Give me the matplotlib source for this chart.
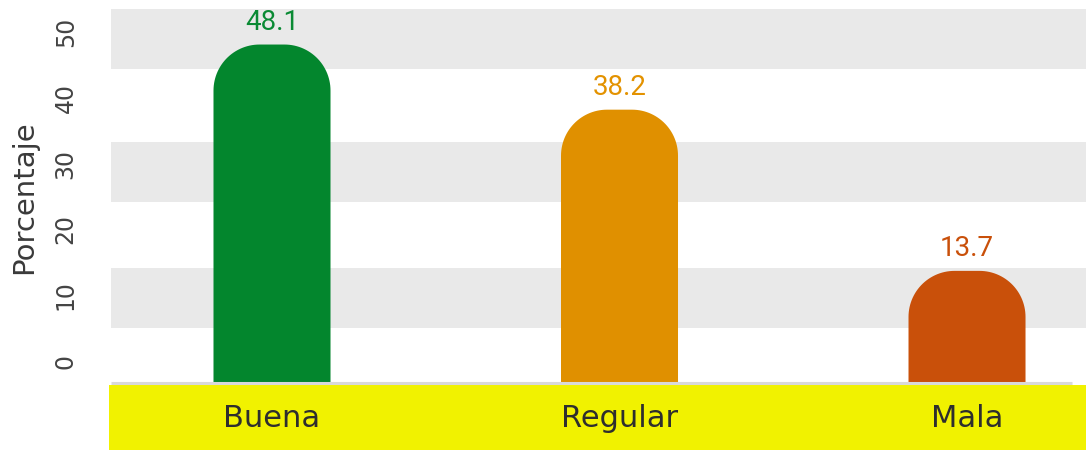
import matplotlib
matplotlib.use("Agg")
import numpy as np
import matplotlib.pyplot as plt
from matplotlib.patches import Polygon, Rectangle

categories = ["Buena", "Regular", "Mala"]
values = [48.1, 38.2, 13.7]
bar_colors = ["#03862D", "#E09000", "#C9500A"]
label_colors = ["#0A8A34", "#E39200", "#C9500A"]
yticks = [0, 10, 20, 30, 40, 50]
bands = [(5.0, 14.1), (24.2, 33.3), (44.4, 53.5)]

W, H, DPI = 1086, 450, 100
fig = plt.figure(figsize=(W / DPI, H / DPI), dpi=DPI)
fig.patch.set_facecolor("white")

ax_l, ax_r, ax_t, ax_b = 111, 1086, 9, 383
ax = fig.add_axes([ax_l / W, (H - ax_b) / H, (ax_r - ax_l) / W, (ax_b - ax_t) / H])
ax.set_facecolor("white")

xmin, xmax = -0.4633, 2.3424
ymin, ymax = -3.34, 53.5
ax.set_xlim(xmin, xmax)
ax.set_ylim(ymin, ymax)

# background bands
for lo, hi in bands:
    ax.axhspan(lo, hi, color="#E9E9E9", lw=0, zorder=0)

# pixels per data unit (for circular top corners)
px_x = (ax_r - ax_l) / (xmax - xmin)
px_y = (ax_b - ax_t) / (ymax - ymin)
radius_px = 46
rx, ry = radius_px / px_x, radius_px / px_y
bw = 0.3367
theta = np.linspace(0, np.pi / 2, 30)


def rounded_bar(xc, top, base):
    x0, x1 = xc - bw / 2, xc + bw / 2
    right = np.column_stack([x1 - rx + rx * np.cos(theta), top - ry + ry * np.sin(theta)])
    left = np.column_stack([x0 + rx - rx * np.cos(theta[::-1]), top - ry + ry * np.sin(theta[::-1])])
    pts = np.vstack([[[x1, base]], right, left, [[x0, base]]])
    return pts


for i, (v, c) in enumerate(zip(values, bar_colors)):
    p = Polygon(rounded_bar(i, v, ymin), closed=True, facecolor=c,
                edgecolor="none", zorder=2)
    ax.add_patch(p)
    ax.annotate(f"{v}", xy=(i, v), xytext=(0, 16), textcoords="offset points",
                ha="center", va="center", fontsize=20, color=label_colors[i],
                family="Roboto", zorder=3)

# baseline
ax.plot([0, (1072 - ax_l) / (ax_r - ax_l)], [0, 0], transform=ax.transAxes,
        color="#D9D9D9", lw=2.2, clip_on=False, zorder=3, solid_capstyle="butt")

for s in ax.spines.values():
    s.set_visible(False)

ax.set_yticks(yticks)
ax.set_yticklabels([str(t) for t in yticks], rotation=90, va="center",
                   fontsize=17, color="#444444", family="DejaVu Sans")
ax.tick_params(axis="y", length=0, pad=24)

ax.set_xticks(range(len(categories)))
ax.set_xticklabels(categories, fontsize=22, color="#2E2E2E", family="DejaVu Sans")
ax.tick_params(axis="x", length=0, pad=15)

# yellow band behind x labels
fig.patches.append(Rectangle((109 / W, 0), (W - 109) / W, 65 / H,
                             transform=fig.transFigure, facecolor="#F1F200",
                             edgecolor="none", zorder=-1))

fig.text(24 / W, (H - 197) / H, "Porcentaje", rotation=90, ha="center", va="center",
         fontsize=21, color="#3A3A3A", family="DejaVu Sans")

fig.savefig("out.png", dpi=DPI)
